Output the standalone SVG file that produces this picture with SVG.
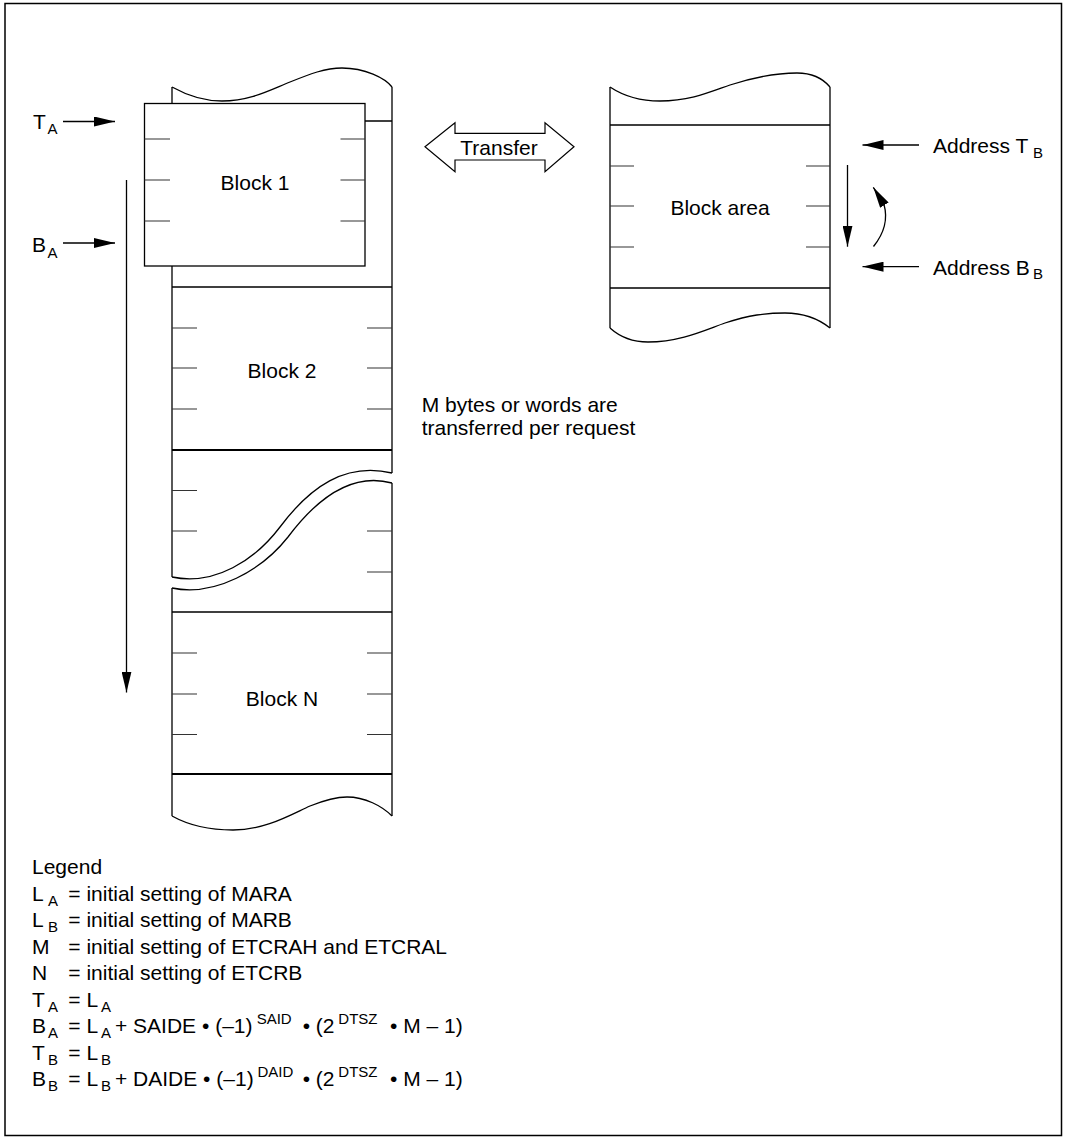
<svg xmlns="http://www.w3.org/2000/svg" width="1065" height="1139" viewBox="0 0 1065 1139">
<defs>
<style>
.ln{fill:none;stroke:#000;stroke-width:1.3}
.thk{fill:none;stroke:#000;stroke-width:2}
.tk{fill:none;stroke:#333;stroke-width:1.2}
.t{font-family:"Liberation Sans",Arial,sans-serif;font-size:21px;fill:#000}
.s{font-family:"Liberation Sans",Arial,sans-serif;font-size:15px;fill:#000}
.c{text-anchor:middle}
</style>
<marker id="ah" viewBox="0 0 21 10" refX="21" refY="5" markerWidth="21" markerHeight="10" markerUnits="userSpaceOnUse" orient="auto">
<path d="M0,0 L21,5 L0,10 z" fill="#000"/>
</marker>
</defs>
<rect x="0" y="0" width="1065" height="1139" fill="#fff"/>
<rect x="5" y="3.5" width="1056.5" height="1132" fill="none" stroke="#000" stroke-width="1.5"/>

<g id="memory-a">
<path class="ln" d="M172,87 C190,97 205,101 222,101 C250,101 270,90 290,82 C310,74 325,68 342,68 C365,68 385,78 392,87"/>
<path class="ln" d="M172,87 V577 M172,588 V816 M392,87 V473 M392,483 V816"/>
<path class="ln" d="M172,121 H392 M172,287 H392 M172,612 H392"/>
<path class="thk" d="M172,450 H392 M172,774 H392"/>
<path class="tk" d="M172,328 H197 M172,368 H197 M172,409 H197 M367,328 H392 M367,368 H392 M367,409 H392"/>
<path class="tk" d="M172,490.5 H197 M172,531 H197 M367,531 H392 M367,572 H392"/>
<path class="tk" d="M172,653 H197 M172,694 H197 M172,734.5 H197 M367,653 H392 M367,694 H392 M367,734.5 H392"/>
<path class="ln" d="M172,577 C215,586 255,560 280,527 C310,487 345,462 392,473"/>
<path class="ln" d="M172,588 C215,597 262,570 288,537 C318,497 352,472 392,483"/>
<path class="ln" d="M172,816 C190,826 210,830 233,830 C265,830 290,815 310,806 C325,800 335,797 347,797 C365,797 382,806 392,816"/>
<text class="t c" x="282" y="378">Block 2</text>
<text class="t c" x="282" y="706">Block N</text>
</g>

<g id="block-1">
<rect x="144.5" y="103.5" width="220.5" height="162.5" fill="#fff" stroke="#000" stroke-width="1.3"/>
<path class="tk" d="M144.5,139 H170 M144.5,180 H170 M144.5,221 H170 M340.5,139 H365 M340.5,180 H365 M340.5,221 H365"/>
<text class="t c" x="255" y="190">Block 1</text>
</g>

<g id="memory-b">
<path class="ln" d="M610,87 C625,97 640,101 660,101 C690,101 710,92 730,85 C755,77 775,73 797,73 C815,73 825,81 830,87"/>
<path class="ln" d="M610,87 V328 M830,87 V328 M610,125 H830 M610,288 H830"/>
<path class="tk" d="M610,166 H634 M610,206 H634 M610,247 H634 M806,166 H830 M806,206 H830 M806,247 H830"/>
<path class="ln" d="M610,328 C620,337 632,342 648,342 C680,342 705,330 725,323 C750,315 765,313 785,313 C805,313 820,320 830,328"/>
<text class="t c" x="720" y="215">Block area</text>
</g>

<g id="connectors">
<path class="ln" d="M63,121.5 H115" marker-end="url(#ah)"/>
<path class="ln" d="M63,243 H115" marker-end="url(#ah)"/>
<path class="ln" d="M126.5,180 V692.5" marker-end="url(#ah)"/>
<polygon points="425,146.7 455,122.7 455,133.3 545,133.3 545,122.7 574,146.7 545,171.7 545,160 455,160 455,171.7" fill="#fff" stroke="#000" stroke-width="1.2"/>
<path class="ln" d="M919,145 H862.5" marker-end="url(#ah)"/>
<path class="ln" d="M919,266.7 H862.5" marker-end="url(#ah)"/>
<path class="ln" d="M847.5,165 V246.7" marker-end="url(#ah)"/>
<path class="ln" d="M873.5,246.5 Q890,226 884,204.5 L873.3,187.3" marker-end="url(#ah)"/>
</g>

<g id="labels">
<text class="t" x="33" y="129">T</text><text class="s" x="47.5" y="134">A</text>
<text class="t" x="32" y="251.7">B</text><text class="s" x="47.5" y="257.7">A</text>
<text class="t c" x="499" y="155">Transfer</text>
<text class="t" x="933" y="153.3">Address T</text><text class="s" x="1033" y="157.5">B</text>
<text class="t" x="933" y="275">Address B</text><text class="s" x="1033" y="279.3">B</text>
<text class="t" x="421.7" y="411.7">M bytes or words are</text>
<text class="t" x="421.7" y="435">transferred per request</text>
</g>

<g id="legend">
<text class="t" x="32" y="874">Legend</text>
<text class="t" x="32" y="900.5">L</text><text class="s" x="48" y="905.5">A</text><text class="t" x="68.3" y="900.5">= initial setting of MARA</text>
<text class="t" x="32" y="927">L</text><text class="s" x="48" y="932">B</text><text class="t" x="68.3" y="927">= initial setting of MARB</text>
<text class="t" x="32" y="953.5">M</text><text class="t" x="68.3" y="953.5">= initial setting of ETCRAH and ETCRAL</text>
<text class="t" x="32" y="980">N</text><text class="t" x="68.3" y="980">= initial setting of ETCRB</text>
<text class="t" x="32" y="1006.5">T</text><text class="s" x="48" y="1011.5">A</text><text class="t" x="68.3" y="1006.5">= L</text><text class="s" x="101" y="1011.5">A</text>
<text class="t" x="32" y="1033">B</text><text class="s" x="48" y="1038">A</text><text class="t" x="68.3" y="1033">= L</text><text class="s" x="101" y="1038">A</text><text class="t" x="115" y="1033">+ SAIDE • (–1)</text><text class="s" x="256.7" y="1024">SAID</text><text class="t" x="302.7" y="1033">• (2</text><text class="s" x="338.3" y="1024">DTSZ</text><text class="t" x="390" y="1033">• M – 1)</text>
<text class="t" x="32" y="1059.5">T</text><text class="s" x="48" y="1064.5">B</text><text class="t" x="68.3" y="1059.5">= L</text><text class="s" x="101" y="1064.5">B</text>
<text class="t" x="32" y="1086">B</text><text class="s" x="48" y="1091">B</text><text class="t" x="68.3" y="1086">= L</text><text class="s" x="101" y="1091">B</text><text class="t" x="115" y="1086">+ DAIDE • (–1)</text><text class="s" x="257.5" y="1077">DAID</text><text class="t" x="302.7" y="1086">• (2</text><text class="s" x="338.3" y="1077">DTSZ</text><text class="t" x="390" y="1086">• M – 1)</text>
</g>
</svg>
